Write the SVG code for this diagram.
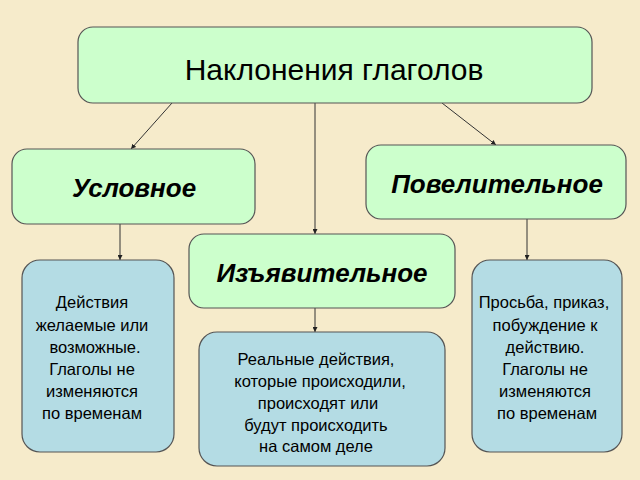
<svg xmlns="http://www.w3.org/2000/svg" width="640" height="480" viewBox="0 0 640 480">
<style>
.g{fill:#CCFFCC;stroke:#555;stroke-width:1.2}
.b{fill:#B4DCE4;stroke:#555;stroke-width:1.2}
.h{font-family:"Liberation Sans",Arial,sans-serif;font-size:26px;font-weight:bold;font-style:italic;text-anchor:middle;fill:#000}
.t{font-family:"Liberation Sans",Arial,sans-serif;font-size:16.5px;text-anchor:middle;fill:#000}
.c line{stroke:#333;stroke-width:1;marker-end:url(#a)}
</style>
<defs><marker id="a" viewBox="0 0 6 6" refX="6" refY="3" markerWidth="5" markerHeight="5" orient="auto"><path d="M0,0L6,3L0,6z" fill="#222"/></marker></defs>
<rect width="640" height="480" fill="#F6EBCB"/>
<g class="c">
<line x1="172" y1="103" x2="131" y2="149"/>
<line x1="315" y1="103" x2="315" y2="234"/>
<line x1="442" y1="103" x2="496" y2="145"/>
<line x1="120" y1="224" x2="120" y2="260"/>
<line x1="527" y1="219" x2="527" y2="260"/>
<line x1="315" y1="308" x2="315" y2="332"/>
</g>
<g id="top"><rect class="g" x="78" y="27" width="514" height="76" rx="15"/><text x="334" y="80" style="font-family:'Liberation Sans',Arial,sans-serif;font-size:30px;text-anchor:middle">Наклонения глаголов</text></g>
<g id="usl"><rect class="g" x="12" y="149" width="243" height="75" rx="15"/><text class="h" x="134" y="197">Условное</text></g>
<g id="pov"><rect class="g" x="366" y="145" width="260" height="74" rx="15"/><text class="h" x="497" y="193">Повелительное</text></g>
<g id="izj"><rect class="g" x="189" y="234" width="266" height="74" rx="15"/><text class="h" x="322" y="282">Изъявительное</text></g>
<g id="l"><rect class="b" x="22" y="260" width="152" height="192" rx="18"/>
<text class="t" x="92" y="308">Действия</text><text class="t" x="92" y="331">желаемые или</text><text class="t" x="95" y="353">возможные.</text><text class="t" x="92" y="375">Глаголы не</text><text class="t" x="92" y="397">изменяются</text><text class="t" x="92" y="419">по временам</text></g>
<g id="m"><rect class="b" x="199" y="332" width="246" height="134" rx="18"/>
<text class="t" x="316" y="365">Реальные действия,</text><text class="t" x="320" y="387">которые  происходили,</text><text class="t" x="318" y="409">происходят или</text><text class="t" x="316" y="431">будут происходить</text><text class="t" x="316" y="452">на самом деле</text></g>
<g id="r"><rect class="b" x="472" y="260" width="150" height="192" rx="18"/>
<text class="t" x="544" y="308">Просьба, приказ,</text><text class="t" x="545" y="331">побуждение к</text><text class="t" x="545" y="353">действию.</text><text class="t" x="545" y="375">Глаголы не</text><text class="t" x="545" y="397">изменяются</text><text class="t" x="547" y="419">по временам</text></g>
</svg>
